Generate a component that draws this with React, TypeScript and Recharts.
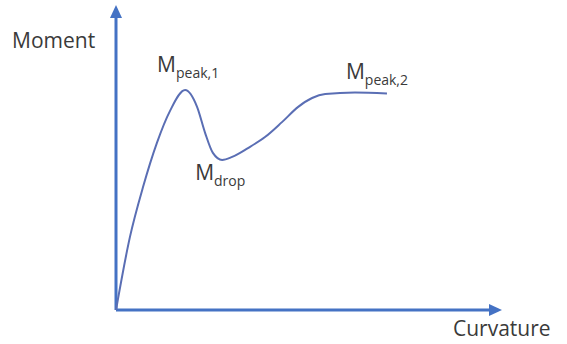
import React from 'react'
import { LineChart, Line, XAxis, YAxis, ReferenceDot, ReferenceLine } from 'recharts'

// Curvature (x) and moment (y), arbitrary units 0..100
const CURVATURE = [0, 3.6, 7.0, 10.6, 14.0, 17.9, 21.0, 23.1, 25.1, 27.5, 30.1, 34.2, 38.6, 43.0, 47.2, 50.8, 54.2, 61.9, 70.2]
const MOMENT = [0, 23.9, 40.3, 54.8, 65.3, 72.1, 66.6, 58.0, 51.5, 49.2, 50.2, 53.1, 56.7, 61.6, 66.6, 69.5, 70.8, 71.3, 71.0]

const LABELS = [
  { x: 17.9, y: 72.1, main: 'M', sub: 'peak,1' },
  { x: 27.5, y: 49.2, main: 'M', sub: 'drop' },
  { x: 61.9, y: 71.3, main: 'M', sub: 'peak,2' },
]
const LABEL_OFFSETS = [
  { dx: -28, dy: -18 },
  { dx: -27, dy: 20 },
  { dx: -9, dy: -14 },
]

const AXIS_COLOR = '#4472C4'
const LINE_COLOR = '#5A6EB4'
const TEXT_COLOR = '#3a3a3a'
const FONT = '"Open Sans", sans-serif'

const data = CURVATURE.map((c, i) => ({ curvature: c, moment: MOMENT[i] }))

const ArrowRight = (props: any) => (
  <polygon
    points={`${props.cx},${props.cy} ${props.cx - 13},${props.cy - 6} ${props.cx - 13},${props.cy + 6}`}
    fill={AXIS_COLOR}
  />
)

const ArrowUp = (props: any) => (
  <polygon
    points={`${props.cx},${props.cy} ${props.cx - 6},${props.cy + 13} ${props.cx + 6},${props.cy + 13}`}
    fill={AXIS_COLOR}
  />
)

const makeLabel = (main: string, sub: string, dx: number, dy: number) => (props: any) => (
  <text x={props.cx + dx} y={props.cy + dy} fill={TEXT_COLOR} fontFamily={FONT}>
    <tspan fontSize={21}>{main}</tspan>
    <tspan fontSize={14} dy={6}>{sub}</tspan>
  </text>
)

export default function App() {
  return (
    <div style={{ position: 'absolute', left: 0, top: 0, width: 567, height: 344, background: '#fff' }}>
      <LineChart
        width={567}
        height={344}
        data={data}
        margin={{ top: 5, right: 65, left: 116, bottom: 34 }}
      >
        <XAxis type="number" dataKey="curvature" domain={[0, 100]} hide />
        <YAxis type="number" domain={[0, 100]} hide />
        <ReferenceLine
          segment={[{ x: 0, y: 0 }, { x: 97, y: 0 }]}
          stroke={AXIS_COLOR}
          strokeWidth={3}
          ifOverflow="visible"
        />
        <ReferenceLine
          segment={[{ x: 0, y: 0 }, { x: 0, y: 96 }]}
          stroke={AXIS_COLOR}
          strokeWidth={3}
          ifOverflow="visible"
        />
        <Line
          type="monotone"
          dataKey="moment"
          stroke={LINE_COLOR}
          strokeWidth={2}
          dot={false}
          isAnimationActive={false}
        />
        <ReferenceDot x={100} y={0} r={0} ifOverflow="visible" shape={ArrowRight} />
        <ReferenceDot x={0} y={100} r={0} ifOverflow="visible" shape={ArrowUp} />
        {LABELS.map((l, i) => (
          <ReferenceDot
            key={l.sub}
            x={l.x}
            y={l.y}
            r={0}
            ifOverflow="visible"
            shape={makeLabel(l.main, l.sub, LABEL_OFFSETS[i].dx, LABEL_OFFSETS[i].dy)}
          />
        ))}
      </LineChart>
      <div style={{ position: 'absolute', left: 12, top: 26, fontFamily: FONT, fontSize: 21, color: TEXT_COLOR }}>
        Moment
      </div>
      <div style={{ position: 'absolute', left: 453, top: 314, fontFamily: FONT, fontSize: 21, color: TEXT_COLOR }}>
        Curvature
      </div>
    </div>
  )
}
